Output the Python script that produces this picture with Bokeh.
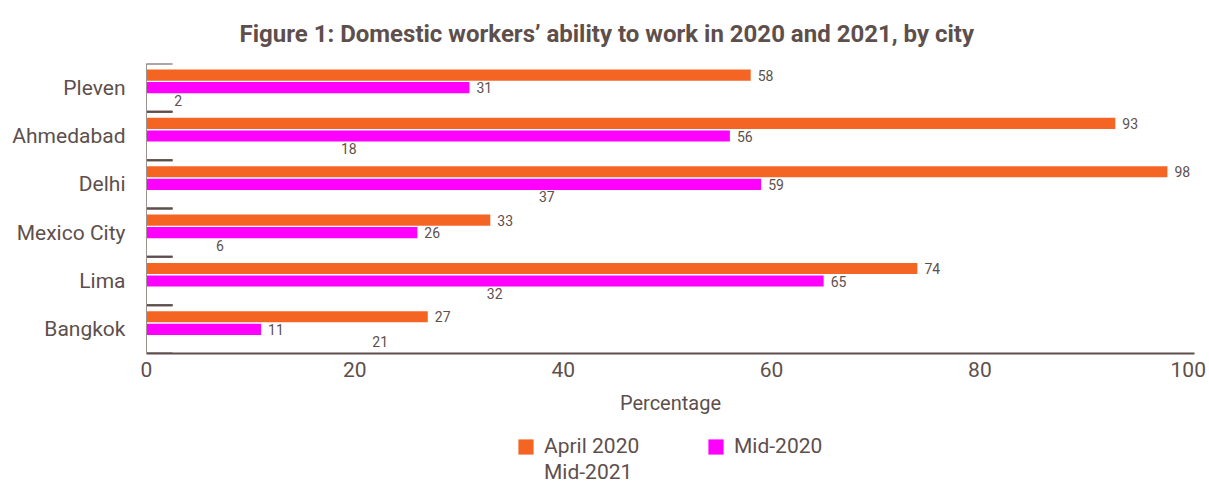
from bokeh.plotting import figure
from bokeh.layouts import column
from bokeh.models import ColumnDataSource, Legend, LegendItem, Range1d, FactorRange, LabelSet, FixedTicker
from bokeh.transform import dodge
from bokeh.core.properties import value
from bokeh.embed import file_html
from bokeh.resources import INLINE

cities = ["Pleven", "Ahmedabad", "Delhi", "Mexico City", "Lima", "Bangkok"]
april_2020 = [58, 93, 98, 33, 74, 27]
mid_2020 = [31, 56, 59, 26, 65, 11]
mid_2021 = [2, 18, 37, 6, 32, 21]
series_names = ["April 2020", "Mid-2020", "Mid-2021"]
x_ticks = [0, 20, 40, 60, 80, 100]

TXT = "#5e4f4c"
FONT = "Roboto"
colors = ["#f46524", "#ff00ff", "#ffffff"]
offsets = [0.26, 0.0, -0.26]

src = ColumnDataSource(dict(city=cities, a=april_2020, b=mid_2020, c=mid_2021,
                            zero=[0] * len(cities), sep=[2.5] * len(cities)))

p = figure(frame_width=1048, frame_height=290, y_range=FactorRange(factors=cities[::-1]),
           x_range=Range1d(0, 100.6), output_backend="svg", toolbar_location=None,
           min_border_left=146, min_border_right=15, min_border_top=63, min_border_bottom=60)

p.title.text = "Figure 1: Domestic workers\u2019 ability to work in 2020 and 2021, by city"
p.title.text_font = FONT
p.title.text_font_size = "24px"
p.title.text_font_style = "bold"
p.title.text_color = TXT
p.title.align = "left"
p.title.offset = 93
p.title.standoff = 32

renderers = []
for col, color, off in zip(["a", "b", "c"], colors, offsets):
    r = p.hbar(y=dodge("city", off, range=p.y_range), right=col, left=0, height=0.23,
               source=src, fill_color=color, line_color=None)
    renderers.append(r)
    lbl = LabelSet(x=col, y=dodge("city", off, range=p.y_range), text=col, source=src,
                   x_offset=7, text_baseline="middle", text_font=value(FONT),
                   text_font_size="14px", text_color=TXT)
    p.add_layout(lbl)

# category separators
for off in [0.5, -0.5]:
    p.segment(x0="zero", x1="sep", y0=dodge("city", off, range=p.y_range),
              y1=dodge("city", off, range=p.y_range), source=src,
              line_color="#5e4f4c", line_width=2)

p.xgrid.visible = False
p.ygrid.visible = False
p.outline_line_color = None

p.xaxis.ticker = FixedTicker(ticks=x_ticks)
p.xaxis.axis_label = "Percentage"
p.xaxis.axis_label_text_font = FONT
p.xaxis.axis_label_text_font_style = "normal"
p.xaxis.axis_label_text_font_size = "20px"
p.xaxis.axis_label_text_color = TXT
p.xaxis.axis_label_standoff = 11
p.xaxis.major_label_text_font = FONT
p.xaxis.major_label_text_font_size = "21px"
p.xaxis.major_label_text_color = TXT
p.xaxis.major_label_standoff = 2
p.xaxis.major_tick_line_color = None
p.xaxis.minor_tick_line_color = None
p.xaxis.axis_line_color = "#5e4f4c"
p.xaxis.axis_line_width = 2

p.yaxis.major_label_text_font = FONT
p.yaxis.major_label_text_font_size = "21px"
p.yaxis.major_label_text_color = TXT
p.yaxis.major_label_standoff = 15
p.yaxis.major_tick_line_color = None
p.yaxis.axis_line_color = "#9b918f"
p.yaxis.axis_line_width = 1

# legend strip (separate figure so the legend is not clipped by the chart frame)
leg_fig = figure(width=1209, height=67, x_range=Range1d(0, 1), y_range=Range1d(0, 1),
                 output_backend="svg", toolbar_location=None,
                 x_axis_location=None, y_axis_location=None, min_border=0)
leg_fig.grid.visible = False
leg_fig.outline_line_color = None
swatches = [leg_fig.hbar(y="zero", left="zero", right="zero", height=0, source=src,
                         fill_color=c, line_color=None)
            for c in colors]

legend = Legend(items=[LegendItem(label=n, renderers=[r]) for n, r in zip(series_names, swatches)],
                orientation="horizontal", ncols=2, location=(370, 0),
                label_text_font=FONT, label_text_font_size="21px", label_text_color=TXT,
                glyph_width=19, glyph_height=19, label_standoff=9, spacing=2,
                label_width=160, label_height=21,
                border_line_color=None, background_fill_alpha=0, padding=0, margin=0)
leg_fig.add_layout(legend, "center")

open("out.html", "w").write(file_html(column(p, leg_fig, spacing=0), INLINE))
